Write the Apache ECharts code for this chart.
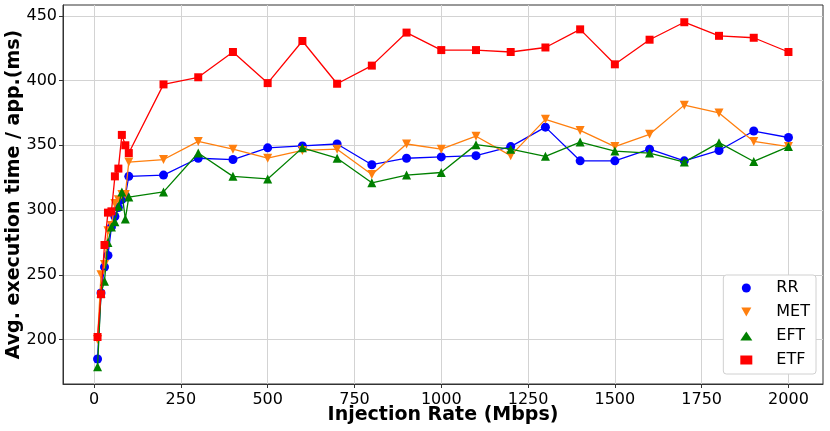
<!DOCTYPE html>
<html>
<head>
<meta charset="utf-8">
<script src="https://cdn.jsdelivr.net/npm/echarts@6/dist/echarts.min.js"></script>
<style>
html,body{margin:0;padding:0;background:#fff;}
#c{width:830px;height:431px;}
</style>
</head>
<body>
<div id="c"></div>
<script>
const rates = [10,20,30,40,50,60,70,80,90,100,200,300,400,500,600,700,800,900,1000,1100,1200,1300,1400,1500,1600,1700,1800,1900,2000];
const rr  = [185,236,256,265,287,295,302,308,311,326,327,340,339,348,349.5,351,335,340,341,342,349,364,338,338,347,338,346,361,356];
const met = [200,250,258,284,288,305,308,312,312,337,339,353,347,340,346,347,327.5,351,347,357,342,370,361.5,349,358.5,381,375,353,349];
const eft = [179,236,245,275,287,291,303,314,293,310,314,344,326,324,348,340,321,327,329,350.5,347,341.5,352.5,345.5,344,337,352,337.5,349];
const etf = [202,235,273,298,299,326,332,358,350,344,397,402.5,422,398,430.5,397.5,411.5,437,423.5,423.5,422,425.5,439.5,412.5,431.5,445,434.5,433,422];
const xTicks = [0,250,500,750,1000,1250,1500,1750,2000];
const yTicks = [200,250,300,350,400,450];
const names = ['RR','MET','EFT','ETF'];
const colors = ['#0000ff','#ff7f0e','#008000','#ff0000'];

const FONT = 'DejaVu Sans';
const downTri = 'path://M0,0 L10,0 L5,9 Z';
const symbols = ['circle', downTri, 'triangle', 'rect'];
const sizes = [9, 9, 9, 8];
const seriesVals = [rr, met, eft, etf];

const chart = echarts.init(document.getElementById('c'), null, {renderer:'canvas'});
chart.setOption({
  animation:false,
  backgroundColor:'#fff',
  textStyle:{fontFamily:FONT},
  grid:{left:63, right:7, top:5, bottom:47, containLabel:false, outerBoundsMode:'none',
        show:true, borderColor:'#333', borderWidth:1, backgroundColor:'transparent'},
  xAxis:{
    type:'value', min:-89.5, max:2099.5,
    name:'Injection Rate (Mbps)', nameLocation:'middle', nameGap:22, nameMoveOverlap:false,
    nameTextStyle:{fontFamily:FONT, fontSize:19, fontWeight:'bold', color:'#000'},
    axisLine:{show:true, onZero:false, lineStyle:{color:'#333', width:1}},
    axisTick:{show:true, length:4, lineStyle:{color:'#333'}, customValues:xTicks},
    axisLabel:{fontFamily:FONT, fontSize:16, color:'#000', margin:8, customValues:xTicks,
               formatter:v=>String(v)},
    splitLine:{show:true, lineStyle:{color:'#d3d3d3', width:1}}
  },
  yAxis:{
    type:'value', min:165.7, max:458.3,
    name:'Avg. execution time / app.(ms)', nameLocation:'middle', nameGap:39, nameRotate:90,
    nameMoveOverlap:false,
    nameTextStyle:{fontFamily:FONT, fontSize:19, fontWeight:'bold', color:'#000'},
    axisLine:{show:true, onZero:false, lineStyle:{color:'#333', width:1}},
    axisTick:{show:true, length:4, lineStyle:{color:'#333'}, customValues:yTicks},
    axisLabel:{fontFamily:FONT, fontSize:16, color:'#000', margin:6, customValues:yTicks,
               formatter:v=>String(v)},
    splitLine:{show:true, lineStyle:{color:'#d3d3d3', width:1}}
  },
  legend:{
    orient:'vertical', right:14, top:275,
    backgroundColor:'#fff', borderColor:'#d0d0d0', borderWidth:1, borderRadius:3,
    padding:[5,6,6,17],
    itemWidth:12, itemHeight:9, itemGap:8,
    textStyle:{fontFamily:FONT, fontSize:16, color:'#000', padding:[0,0,0,19]},
    data:names.map((n,i)=>({name:n, icon:symbols[i]}))
  },
  series:names.map((n,i)=>({
    name:n, type:'line',
    data:rates.map((x,j)=>[x, seriesVals[i][j]]),
    symbol:symbols[i], symbolSize:sizes[i], showAllSymbol:true,
    itemStyle:{color:colors[i]},
    lineStyle:{color:colors[i], width:1.3},
    emphasis:{disabled:true},
    z:2+i
  }))
});
</script>
</body>
</html>
